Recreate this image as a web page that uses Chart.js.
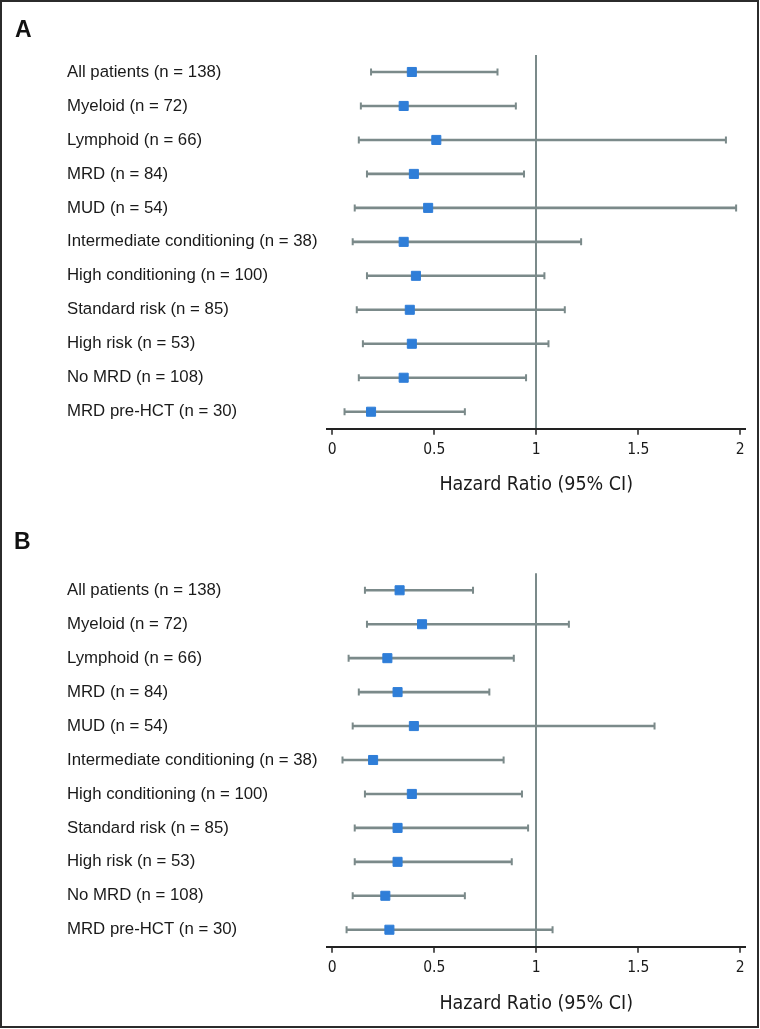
<!DOCTYPE html>
<html>
<head>
<meta charset="utf-8">
<script src="https://cdn.jsdelivr.net/npm/chart.js@4.4.1/dist/chart.umd.min.js"></script>
<style>
  html, body { margin: 0; padding: 0; background: #fff; }
  #page { position: relative; width: 760px; height: 1029px; overflow: hidden; background: #fff; }
  #frame { position: absolute; left: 0; top: 0; width: 759px; height: 1028px; box-sizing: border-box; border: 2px solid #2b2b2b; pointer-events: none; }
  canvas { position: absolute; left: 0; }
  .tag { position: absolute; font: bold 23px 'Liberation Sans', Arial, sans-serif; line-height: 23px; color: #111; }
</style>
</head>
<body>
<div id="page">
  <canvas id="chartA" width="760" height="515" style="top:0"></canvas>
  <canvas id="chartB" width="760" height="514" style="top:515px"></canvas>
  <div class="tag" style="left:15px;top:18px">A</div>
  <div class="tag" style="left:14px;top:530px">B</div>
  <div id="frame"></div>
</div>
<script>
const subgroups = [
  'All patients (n = 138)',
  'Myeloid (n = 72)',
  'Lymphoid (n = 66)',
  'MRD (n = 84)',
  'MUD (n = 54)',
  'Intermediate conditioning (n = 38)',
  'High conditioning (n = 100)',
  'Standard risk (n = 85)',
  'High risk (n = 53)',
  'No MRD (n = 108)',
  'MRD pre-HCT (n = 30)'
];
const hrTicks = [0, 0.5, 1, 1.5, 2];

// panel A
const hrA   = [0.39, 0.35, 0.51, 0.40, 0.47, 0.35, 0.41, 0.38, 0.39, 0.35, 0.19];
const lowA  = [0.19, 0.14, 0.13, 0.17, 0.11, 0.10, 0.17, 0.12, 0.15, 0.13, 0.06];
const highA = [0.81, 0.90, 1.93, 0.94, 1.98, 1.22, 1.04, 1.14, 1.06, 0.95, 0.65];

// panel B
const hrB   = [0.33, 0.44, 0.27, 0.32, 0.40, 0.20, 0.39, 0.32, 0.32, 0.26, 0.28];
const lowB  = [0.16, 0.17, 0.08, 0.13, 0.10, 0.05, 0.16, 0.11, 0.11, 0.10, 0.07];
const highB = [0.69, 1.16, 0.89, 0.77, 1.58, 0.84, 0.93, 0.96, 0.88, 0.65, 1.08];

const GREY = '#7b8a8a';
const BLUE = '#2f7ed8';
const INK = '#1a1a1a';
const NARROW = "'Liberation Sans Narrow', 'DejaVu Sans Condensed', 'Liberation Sans', sans-serif";

function errorBars(low, high) {
  return {
    id: 'errorBars',
    beforeDatasetsDraw(chart) {
      const { ctx, scales: { x, y } } = chart;
      ctx.save();
      ctx.strokeStyle = GREY;
      low.forEach((lo, i) => {
        const yy = y.getPixelForValue(i);
        const x1 = x.getPixelForValue(lo);
        const x2 = x.getPixelForValue(high[i]);
        ctx.lineWidth = 2.6;
        ctx.beginPath();
        ctx.moveTo(x1, yy);
        ctx.lineTo(x2, yy);
        ctx.stroke();
        ctx.lineWidth = 2;
        ctx.beginPath();
        ctx.moveTo(x1, yy - 3.5);
        ctx.lineTo(x1, yy + 3.5);
        ctx.moveTo(x2, yy - 3.5);
        ctx.lineTo(x2, yy + 3.5);
        ctx.stroke();
      });
      ctx.restore();
    }
  };
}

function makeChart(id, hr, low, high, padTop, axisHeight, titlePad) {
  return new Chart(document.getElementById(id), {
    type: 'scatter',
    data: {
      datasets: [{
        data: hr.map((v, i) => ({ x: v, y: subgroups[i] })),
        pointStyle: 'rect',
        pointRadius: 6.4,
        pointHoverRadius: 6.4,
        backgroundColor: BLUE,
        borderColor: BLUE,
        borderWidth: 1
      }]
    },
    options: {
      responsive: false,
      animation: false,
      devicePixelRatio: 1,
      layout: { padding: { top: padTop, left: 67, right: 14.7, bottom: 0 } },
      plugins: { legend: { display: false }, tooltip: { enabled: false } },
      scales: {
        x: {
          type: 'linear',
          min: -0.025,
          max: 2.025,
          afterBuildTicks: s => { s.ticks = hrTicks.map(v => ({ value: v })); },
          afterFit: s => { s.height = axisHeight; },
          grid: {
            color: c => (c.tick && c.tick.value === 1 ? GREY : 'rgba(0,0,0,0)'),
            lineWidth: 2,
            drawTicks: true,
            tickLength: 6,
            tickColor: '#222',
            tickWidth: 1.5
          },
          border: { display: true, color: '#222', width: 2 },
          ticks: {
            padding: 6,
            color: INK,
            font: { family: NARROW, size: 15.5 },
            callback: v => String(v)
          },
          title: {
            display: true,
            text: 'Hazard Ratio (95% CI)',
            color: INK,
            font: { family: NARROW, size: 19.5 },
            padding: { top: 0, bottom: titlePad }
          }
        },
        y: {
          type: 'category',
          labels: subgroups,
          offset: true,
          afterFit: s => { s.width = 260.2; },
          grid: { display: false },
          border: { display: false },
          ticks: {
            crossAlign: 'far',
            padding: 0,
            color: INK,
            font: { family: "'Liberation Sans', Arial, sans-serif", size: 16.8 }
          }
        }
      }
    },
    plugins: [errorBars(low, high)]
  });
}

makeChart('chartA', hrA, lowA, highA, 55, 86.3, 18);
makeChart('chartB', hrB, lowB, highB, 58.3, 82.3, 13.5);
</script>
</body>
</html>
